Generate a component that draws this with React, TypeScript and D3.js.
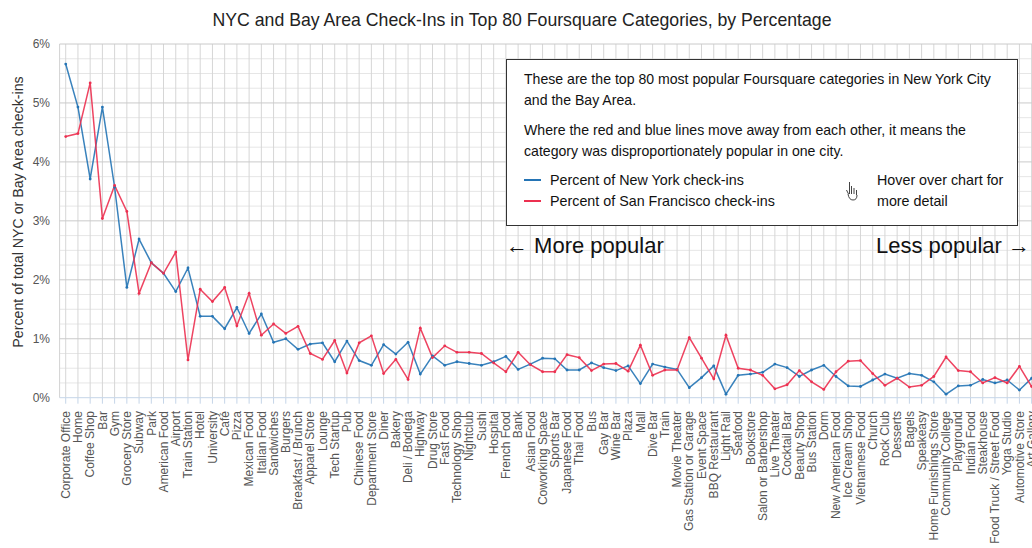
import React from "react";
import * as d3 from "d3";

const categories: string[] = [
  "Corporate Office", "Home", "Coffee Shop", "Bar", "Gym", "Grocery Store", "Subway", "Park",
  "American Food", "Airport", "Train Station", "Hotel", "University", "Café", "Pizza",
  "Mexican Food", "Italian Food", "Sandwiches", "Burgers", "Breakfast / Brunch", "Apparel Store",
  "Lounge", "Tech Startup", "Pub", "Chinese Food", "Department Store", "Diner", "Bakery",
  "Deli / Bodega", "Highway", "Drug Store", "Fast Food", "Technology Shop", "Nightclub", "Sushi",
  "Hospital", "French Food", "Bank", "Asian Food", "Coworking Space", "Sports Bar",
  "Japanese Food", "Thai Food", "Bus", "Gay Bar", "Wine Bar", "Plaza", "Mall", "Dive Bar",
  "Train", "Movie Theater", "Gas Station or Garage", "Event Space", "BBQ Restaurant",
  "Light Rail", "Seafood", "Bookstore", "Salon or Barbershop", "Live Theater", "Cocktail Bar",
  "Beauty Shop", "Bus Station", "Dorm", "New American Food", "Ice Cream Shop",
  "Vietnamese Food", "Church", "Rock Club", "Desserts", "Bagels", "Speakeasy",
  "Home Furnishings Store", "Community College", "Playground", "Indian Food", "Steakhouse",
  "Food Truck / Street Food", "Yoga Studio", "Automotive Store", "Art Gallery",
];

const nycValues: number[] = [
  5.66, 4.93, 3.71, 4.93, 3.57, 1.87, 2.69, 2.29, 2.11, 1.80,
  2.20, 1.38, 1.38, 1.17, 1.53, 1.09, 1.42, 0.94, 1.00, 0.82,
  0.91, 0.93, 0.61, 0.96, 0.63, 0.55, 0.90, 0.74, 0.94, 0.40,
  0.71, 0.55, 0.61, 0.58, 0.55, 0.61, 0.70, 0.48, 0.57, 0.67,
  0.66, 0.47, 0.47, 0.59, 0.51, 0.46, 0.54, 0.24, 0.57, 0.52,
  0.48, 0.17, 0.34, 0.54, 0.06, 0.38, 0.40, 0.43, 0.57, 0.51,
  0.36, 0.47, 0.55, 0.36, 0.20, 0.19, 0.30, 0.40, 0.33, 0.41,
  0.38, 0.27, 0.06, 0.20, 0.21, 0.31, 0.25, 0.30, 0.13, 0.33,
];

const sfValues: number[] = [
  4.43, 4.48, 5.34, 3.04, 3.60, 3.16, 1.77, 2.29, 2.11, 2.47,
  0.64, 1.84, 1.63, 1.87, 1.22, 1.77, 1.06, 1.25, 1.09, 1.21,
  0.75, 0.65, 0.97, 0.42, 0.93, 1.05, 0.41, 0.65, 0.31, 1.18,
  0.68, 0.88, 0.77, 0.77, 0.75, 0.59, 0.44, 0.77, 0.56, 0.44,
  0.44, 0.73, 0.68, 0.46, 0.57, 0.58, 0.45, 0.89, 0.38, 0.47,
  0.47, 1.02, 0.67, 0.32, 1.06, 0.50, 0.47, 0.38, 0.15, 0.22,
  0.46, 0.27, 0.14, 0.44, 0.62, 0.63, 0.41, 0.21, 0.33, 0.18,
  0.21, 0.36, 0.69, 0.46, 0.44, 0.25, 0.34, 0.25, 0.53, 0.19,
];

const yTicks: number[] = [0, 1, 2, 3, 4, 5, 6];
const yMinorStep = 0.25;

const titleText = "NYC and Bay Area Check-Ins in Top 80 Foursquare Categories, by Percentage";
const yLabel = "Percent of total NYC or Bay Area check-ins";
const infoLines: string[] = [
  "These are the top 80 most popular Foursquare categories in New York City",
  "and the Bay Area.",
  "Where the red and blue lines move away from each other, it means the",
  "category was disproportionately popular in one city.",
];
const legendLabels: string[] = ["Percent of New York check-ins", "Percent of San Francisco check-ins"];
const hoverLines: string[] = ["Hover over chart for", "more detail"];

const BLUE = "#2474b5";
const RED = "#ec3050";
const FONT = "'Liberation Sans', Arial, sans-serif";

export default function App() {
  const W = 1032;
  const H = 548;
  const left = 59.6;
  const step = 12.227;
  const x = d3
    .scalePoint<string>()
    .domain(categories)
    .range([left, left + step * categories.length])
    .padding(0.5);
  const y = d3.scaleLinear().domain([0, 6]).range([397.7, 44]);

  const minor = d3.range(0, 6 + 1e-9, yMinorStep).filter((v) => Math.abs(v - Math.round(v)) > 1e-6);

  const line = d3
    .line<number>()
    .x((_, i) => x(categories[i]) as number)
    .y((d) => y(d));

  const y0 = y(0);

  return (
    <svg
      width={W}
      height={H}
      style={{ position: "absolute", left: 0, top: 0, background: "#fff" }}
      fontFamily={FONT}
    >
      <rect x={0} y={0} width={W} height={H} fill="#fff" />
      <text x={522} y={26} textAnchor="middle" fontSize={17.7} fill="#222">
        {titleText}
      </text>

      {/* minor horizontal grid */}
      {minor.map((v) => (
        <line key={"mn" + v} x1={left} x2={W} y1={y(v)} y2={y(v)} stroke="#e6e6e6" strokeWidth={1} />
      ))}
      {/* vertical grid */}
      <line x1={left} x2={left} y1={y(6)} y2={y0} stroke="#d2d2d2" strokeWidth={1} />
      {categories.map((c) => (
        <line key={"vg" + c} x1={x(c)} x2={x(c)} y1={y(6)} y2={y0} stroke="#d6d6d6" strokeWidth={1} />
      ))}
      {/* major horizontal grid */}
      {yTicks.map((v) => (
        <line key={"mj" + v} x1={left} x2={W} y1={y(v)} y2={y(v)} stroke={v === 0 ? "#c5d5e8" : "#cacaca"} strokeWidth={1} />
      ))}
      {/* x ticks */}
      {categories.map((c) => (
        <line key={"xt" + c} x1={x(c)} x2={x(c)} y1={y0} y2={y0 + 6} stroke="#c5d5e8" strokeWidth={1} />
      ))}

      {/* y tick labels */}
      {yTicks.map((v) => (
        <text key={"yl" + v} x={50} y={y(v)} dy="0.35em" textAnchor="end" fontSize={12} fill="#555">
          {v + "%"}
        </text>
      ))}
      <text
        transform={`translate(18,212) rotate(-90)`}
        textAnchor="middle"
        dy="0.35em"
        fontSize={14.2}
        fill="#333"
      >
        {yLabel}
      </text>

      {/* x labels */}
      {categories.map((c) => (
        <text
          key={"xl" + c}
          transform={`translate(${x(c)},${411}) rotate(-90)`}
          textAnchor="end"
          dy="0.35em"
          fontSize={12}
          fill="#555"
        >
          {c}
        </text>
      ))}

      {/* series */}
      <path d={line(nycValues) || ""} fill="none" stroke={BLUE} strokeWidth={1.5} strokeOpacity={0.9} />
      <path d={line(sfValues) || ""} fill="none" stroke={RED} strokeWidth={1.5} strokeOpacity={0.9} />
      {nycValues.map((v, i) => (
        <circle key={"bn" + i} cx={x(categories[i])} cy={y(v)} r={1.4} fill={BLUE} />
      ))}
      {sfValues.map((v, i) => (
        <circle key={"rs" + i} cx={x(categories[i])} cy={y(v)} r={1.4} fill={RED} />
      ))}

      {/* info box */}
      <rect x={506.5} y={59.5} width={511} height={166} fill="#fff" stroke="#333" strokeWidth={1} />
      {infoLines.map((t, i) => (
        <text key={"il" + i} x={524} y={[84, 105, 134.5, 155.5][i]} fontSize={14.1} fill="#111">
          {t}
        </text>
      ))}
      <line x1={524} x2={541} y1={180} y2={180} stroke={BLUE} strokeWidth={2} />
      <line x1={524} x2={541} y1={201} y2={201} stroke={RED} strokeWidth={2} />
      {legendLabels.map((t, i) => (
        <text key={"lg" + i} x={550} y={184.5 + i * 21} fontSize={14.3} fill="#111">
          {t}
        </text>
      ))}
      {hoverLines.map((t, i) => (
        <text key={"hv" + i} x={877} y={184.5 + i * 21} fontSize={14.3} fill="#111">
          {t}
        </text>
      ))}
      {/* hand cursor */}
      <g fill="#fff" stroke="#444" strokeWidth={1}>
        <path d="M849.5,182 v12 M851.5,186 v8 M854,188 v6 M856.5,190 v5 M846.5,190 l2,4 M848,194 q1,6 5,6 q4,0 4,-5" fill="none" />
      </g>

      <text x={506} y={253} fontSize={22} fill="#111">
        ← More popular
      </text>
      <text x={1030} y={253} fontSize={22} fill="#111" textAnchor="end">
        Less popular →
      </text>
    </svg>
  );
}
